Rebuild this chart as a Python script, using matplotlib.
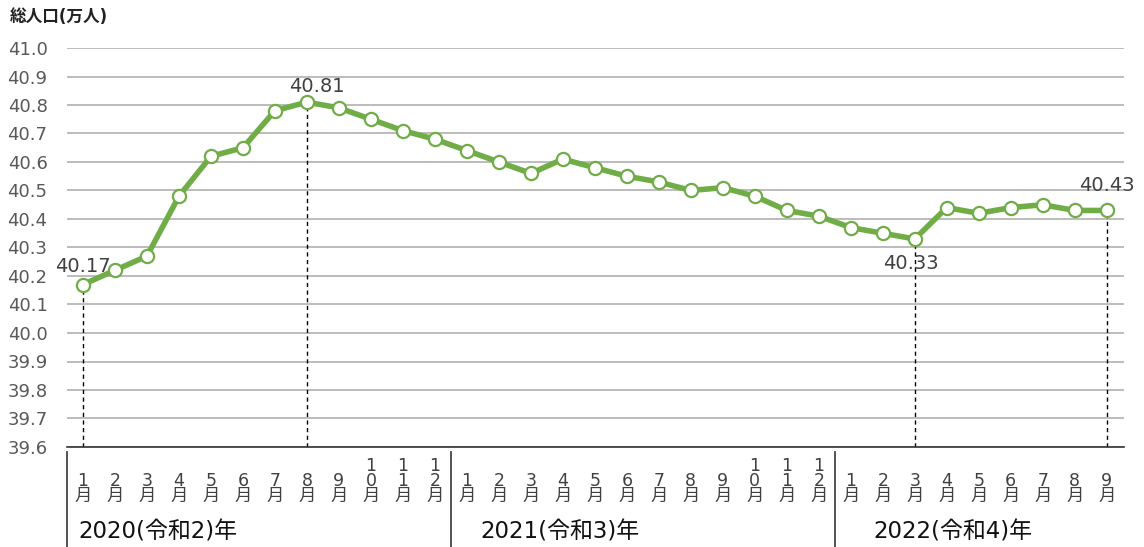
import matplotlib
matplotlib.use("Agg")
from matplotlib import pyplot as plt
from matplotlib.transforms import blended_transform_factory
from matplotlib.lines import Line2D

# DejaVu for the wide digits, Noto CJK for the Japanese glyphs
plt.rcParams['font.family'] = ['DejaVu Sans', 'Noto Sans CJK JP']

# data
years = ["2020(令和2)年", "2021(令和3)年", "2022(令和4)年"]
months_per_year = [12, 12, 9]
population = [40.17, 40.22, 40.27, 40.48, 40.62, 40.65, 40.78, 40.81, 40.79, 40.75, 40.71, 40.68,
              40.64, 40.60, 40.56, 40.61, 40.58, 40.55, 40.53, 40.50, 40.51, 40.48, 40.43, 40.41,
              40.37, 40.35, 40.33, 40.44, 40.42, 40.44, 40.45, 40.43, 40.43]
# labelled points: index, offset in pixels (dx, dy)
labelled = [(0, 0, 18), (7, 10, 16), (26, -4, -25), (32, 0, 25)]

green = "#70AD47"
grey_text = "#595959"

month_labels = []
for n in months_per_year:
    month_labels += [str(m) for m in range(1, n + 1)]
x = list(range(len(population)))

fig = plt.figure(figsize=(11.44, 5.47), dpi=100)
ax = fig.add_axes([67 / 1144, 1 - 447 / 547, (1124 - 67) / 1144, (447 - 48) / 547])

ax.set_ylim(39.6, 41.0)
ax.set_xlim(-0.5, 32.54)
ax.set_yticks([39.6 + 0.1 * i for i in range(15)])
ax.set_yticklabels(["%.1f" % (39.6 + 0.1 * i) for i in range(15)], fontsize=13, color=grey_text)
ax.tick_params(axis='y', length=0, pad=14)
ax.tick_params(axis='x', length=0, labelbottom=False)
ax.grid(axis='y', color="#AAAAAA", linewidth=1.1)
ax.set_axisbelow(True)
for s in ["top", "right", "left"]:
    ax.spines[s].set_visible(False)
ax.spines["bottom"].set_color("#333333")
ax.spines["bottom"].set_linewidth(1.2)

# dashed drop lines
for i, dx, dy in labelled:
    ax.plot([x[i], x[i]], [39.6, population[i]], color="black", linestyle=(0, (3, 2.5)),
            linewidth=1, zorder=2)

ax.plot(x, population, color=green, linewidth=4, marker="o", markersize=9.5,
        markerfacecolor="white", markeredgecolor=green, markeredgewidth=1.6, zorder=3)

for i, dx, dy in labelled:
    ax.annotate("%.2f" % population[i], (x[i], population[i]),
                xytext=(dx / 1.389, dy / 1.389), textcoords="offset points",
                ha="center", va="center", fontsize=14, color="#404040", zorder=4)

# month labels stacked vertically
trans = blended_transform_factory(ax.transData, ax.transAxes)
for i, m in enumerate(month_labels):
    ax.text(x[i], -0.145, "\n".join(list(m) + ["月"]), transform=trans, ha="center", va="bottom",
            fontsize=12.5, color="#404040", linespacing=0.78)

# year labels and separators
start = 0
year_x = [78, 480, 873]
for j, n in enumerate(months_per_year):
    fig.text(year_x[j] / 1144, 1 - 532 / 547, years[j], fontsize=16.5, color="#111111",
             ha="left", va="center")
    ax.add_line(Line2D([start - 0.5, start - 0.5], [-0.012, -0.3], transform=trans,
                       color="#444444", linewidth=1.3, clip_on=False))
    start += n

fig.text(10 / 1144, 1 - 17 / 547, "総人口(万人)", fontsize=12, fontweight="bold",
         color="#222222", ha="left", va="center")

fig.savefig("out.png", dpi=100)
